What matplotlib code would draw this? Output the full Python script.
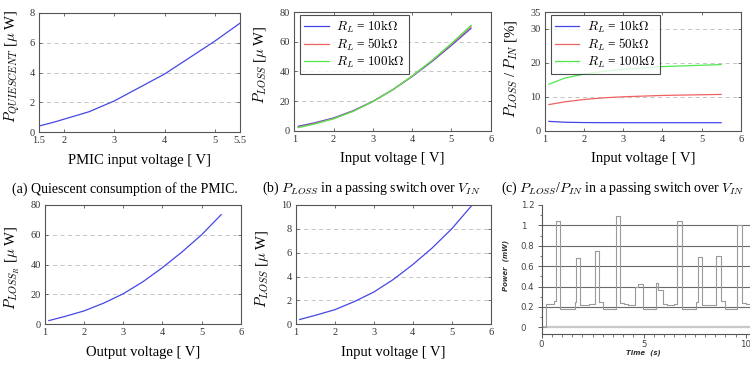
import matplotlib
matplotlib.use("Agg")
import matplotlib.pyplot as plt
from matplotlib.ticker import MultipleLocator

plt.rcParams['font.family'] = ['Liberation Serif', 'DejaVu Serif']
plt.rcParams['mathtext.fontset'] = 'cm'

# ---------------- data ----------------
vq_x = [1.5, 1.8, 2.0, 2.5, 3.0, 3.5, 4.0, 4.5, 5.0, 5.5]
vq_y = [0.42, 0.68, 0.88, 1.38, 2.1, 3.0, 3.9, 5.0, 6.1, 7.3]

vin = [1.1, 1.5, 2.0, 2.5, 3.0, 3.5, 4.0, 4.5, 5.0, 5.5]
ploss_10k = [3.0, 5.2, 8.6, 13.5, 19.8, 27.5, 36.5, 46.5, 57.5, 69.0]
ploss_50k = [2.4, 4.7, 8.2, 13.2, 19.7, 27.5, 36.8, 47.0, 58.3, 70.2]
ploss_100k = [2.1, 4.4, 8.0, 13.0, 19.6, 27.5, 36.9, 47.3, 58.8, 71.0]

ratio_10k = [2.75, 2.5, 2.4, 2.37, 2.36, 2.36, 2.36, 2.36, 2.36, 2.36]
ratio_50k = [7.7, 8.5, 9.2, 9.7, 10.0, 10.2, 10.4, 10.5, 10.6, 10.7]
ratio_100k = [13.7, 15.5, 16.7, 17.5, 18.1, 18.5, 18.9, 19.1, 19.3, 19.5]

vout = [1.1, 1.5, 2.0, 2.5, 3.0, 3.5, 4.0, 4.5, 5.0, 5.5]
ploss_r = [2.5, 5.2, 9.0, 14.2, 20.5, 28.5, 38.0, 48.5, 60.0, 73.5]

ploss_sw = [0.4, 0.75, 1.22, 1.9, 2.7, 3.75, 5.0, 6.4, 8.0, 9.9]

step_t = [0, 0.22, 0.62, 0.70, 0.90, 1.62, 1.68, 1.86, 2.31, 2.62, 2.80, 3.03,
          3.64, 3.83, 4.04, 4.24, 4.58, 4.72, 4.98, 5.61, 5.70, 5.93, 6.14,
          6.46, 6.63, 6.87, 7.56, 7.64, 7.87, 8.53, 8.76, 8.98, 9.58, 9.79,
          10.0, 10.2]
step_p = [0.0, 0.23, 0.26, 1.04, 0.18, 0.25, 0.68, 0.215, 0.225, 0.75, 0.25, 0.18,
          1.09, 0.24, 0.23, 0.22, 0.40, 0.43, 0.18, 0.44, 0.37, 0.23, 0.22,
          0.23, 1.04, 0.18, 0.25, 0.69, 0.22, 0.70, 0.26, 0.18, 1.00, 0.24,
          0.23, 0.23]

legend_labels = [r'$R_L$ = $10\mathrm{k}\Omega$', r'$R_L$ = $50\mathrm{k}\Omega$',
                 r'$R_L$ = $100\mathrm{k}\Omega$']
c_blue, c_red, c_green = '#4646e6', '#f06262', '#4ee84e'

W, H = 750, 369
fig = plt.figure(figsize=(7.5, 3.69), dpi=100)


def add_ax(l, r, t, b):
    return fig.add_axes([l / W, 1 - b / H, (r - l) / W, (b - t) / H])


FRAME = '#555555'


def pgf_style(ax, xlim, ylim, xticks, yticks, xlabel, ylabel, ylabx, ylaby, xlaby):
    ax.set_xlim(*xlim)
    ax.set_ylim(*ylim)
    ax.set_xticks(xticks)
    ax.set_yticks(yticks)
    ax.set_xticklabels([('%g' % v) for v in xticks])
    ax.set_yticklabels([('%g' % v) for v in yticks])
    for s in ax.spines.values():
        s.set_color(FRAME)
        s.set_linewidth(0.8)
    ax.tick_params(direction='in', length=2.5, width=0.6, color=FRAME,
                   top=True, right=True, labelsize=7.5, labelcolor='#333333', pad=3)
    for y in yticks:
        if ylim[0] < y < ylim[1]:
            ax.axhline(y, color='#bbbbbb', lw=0.6, ls=(0, (5, 4)), zorder=0)
    ax.set_xlabel(xlabel, fontsize=10.5, va='center')
    ax.set_ylabel(ylabel, fontsize=10.5, va='center')
    ax.xaxis.set_label_coords(0.5, xlaby)
    ax.yaxis.set_label_coords(ylabx, ylaby)


# (a) top-left
ax1 = add_ax(39, 240, 12.7, 132.3)
ax1.plot(vq_x, vq_y, color=c_blue, lw=0.9)
pgf_style(ax1, (1.5, 5.5), (0, 8), [1.5, 2, 3, 4, 5, 5.5], [0, 2, 4, 6, 8],
          'PMIC input voltage [ V]', r'$P_{QUIESCENT}$ [$\mu$ W]', -0.134, 0.55, -0.232)

# top-middle
ax2 = add_ax(294.3, 490.7, 12, 130.7)
ax2.plot(vin, ploss_10k, color=c_blue, lw=0.9, label=legend_labels[0])
ax2.plot(vin, ploss_50k, color=c_red, lw=0.9, label=legend_labels[1])
ax2.plot(vin, ploss_100k, color=c_green, lw=0.9, label=legend_labels[2])
pgf_style(ax2, (1, 6), (0, 80), [1, 2, 3, 4, 5, 6], [0, 20, 40, 60, 80],
          'Input voltage [ V]', r'$P_{LOSS}$ [$\mu$ W]', -0.175, 0.55, -0.238)

# top-right
ax3 = add_ax(545, 740.7, 12, 130.7)
ax3.plot(vin, ratio_10k, color=c_blue, lw=0.9, label=legend_labels[0])
ax3.plot(vin, ratio_50k, color=c_red, lw=0.9, label=legend_labels[1])
ax3.plot(vin, ratio_100k, color=c_green, lw=0.9, label=legend_labels[2])
pgf_style(ax3, (1, 6), (0, 35), [1, 2, 3, 4, 5, 6], [0, 10, 20, 30, 35],
          'Input voltage [ V]', r'$P_{LOSS}$ / $P_{IN}$ [%]', -0.175, 0.52, -0.238)

for ax in (ax2, ax3):
    leg = ax.legend(loc='upper left', bbox_to_anchor=(0.03, 0.975), fontsize=9.5,
                    frameon=True, fancybox=False, edgecolor='#222222',
                    handlelength=1.85, borderpad=0.3, labelspacing=0.1,
                    handletextpad=0.6, borderaxespad=0)
    leg.get_frame().set_linewidth(0.8)
    leg.set_zorder(5)

# bottom-left
ax4 = add_ax(45, 240.7, 205, 324.3)
ax4.plot(vout, ploss_r, color=c_blue, lw=0.9)
pgf_style(ax4, (1, 6), (0, 80), [1, 2, 3, 4, 5, 6], [0, 20, 40, 60, 80],
          'Output voltage [ V]', r'$P_{LOSS_R}$ [$\mu$ W]', -0.169, 0.47, -0.24)

# bottom-middle
ax5 = add_ax(295.7, 490.7, 205, 324.3)
ax5.plot(vin, ploss_sw, color=c_blue, lw=0.9)
pgf_style(ax5, (1, 6), (0, 10), [1, 2, 3, 4, 5, 6], [0, 2, 4, 6, 8, 10],
          'Input voltage [ V]', r'$P_{LOSS}$ [$\mu$ W]', -0.174, 0.46, -0.24)

# bottom-right (time trace)
ax6 = add_ax(541.5, 750, 205, 334)
ax6.set_xlim(0, 10.2)
ax6.set_ylim(-0.065, 1.2)
for y in [0.2, 0.4, 0.6, 0.8, 1.0]:
    ax6.axhline(y, color='#6a6a6a', lw=0.8, zorder=1)
ax6.axhline(0, color='#c8c8c8', lw=1.6, zorder=1)
ax6.plot(step_t, step_p, drawstyle='steps-post', color='#9a9a9a', lw=0.8, zorder=2)
for side in ('top', 'right'):
    ax6.spines[side].set_visible(False)
for side in ('left', 'bottom'):
    ax6.spines[side].set_color('#555555')
    ax6.spines[side].set_linewidth(0.8)
ax6.set_xticks([0, 5, 10])
ax6.set_yticks([0, 0.2, 0.4, 0.6, 0.8, 1.0, 1.2])
ax6.set_yticklabels(['0', '0.2', '0.4', '0.6', '0.8', '1', '1.2'])
ax6.xaxis.set_minor_locator(MultipleLocator(0.5))
ax6.yaxis.set_minor_locator(MultipleLocator(0.1))
ax6.tick_params(axis='both', which='major', direction='out', length=3, width=0.6,
                color='#444444', labelsize=6.2, labelcolor='#444444')
ax6.tick_params(axis='x', which='major', pad=1.5)
ax6.tick_params(axis='y', which='major', pad=12)
ax6.tick_params(axis='both', which='minor', direction='out', length=1.8, width=0.5,
                color='#444444')
for lab in ax6.get_xticklabels() + ax6.get_yticklabels():
    lab.set_fontfamily('DejaVu Sans')
for lab in ax6.get_yticklabels():
    lab.set_horizontalalignment('left')
ax6.set_xlabel('Time  (s)', fontsize=5, fontweight='bold', fontstyle='italic',
               family='DejaVu Sans', color='#333333', va='center')
ax6.set_ylabel('Power  (mW)', fontsize=5, fontweight='bold', fontstyle='italic',
               family='DejaVu Sans', color='#333333', va='center')
ax6.xaxis.set_label_coords(0.487, -0.145)
ax6.yaxis.set_label_coords(-0.17, 0.53)

# captions
fig.text(125 / W, 1 - 189 / H, '(a) Quiescent consumption of the PMIC.',
         ha='center', va='center', fontsize=10)
fig.text(371 / W, 1 - 188 / H, r'(b) $P_{LOSS}$ in a passing switch over $V_{IN}$',
         ha='center', va='center', fontsize=10)
fig.text(623 / W, 1 - 188 / H, r'(c) $P_{LOSS}$/$P_{IN}$ in a passing switch over $V_{IN}$',
         ha='center', va='center', fontsize=10)

fig.savefig('out.png', dpi=100)
